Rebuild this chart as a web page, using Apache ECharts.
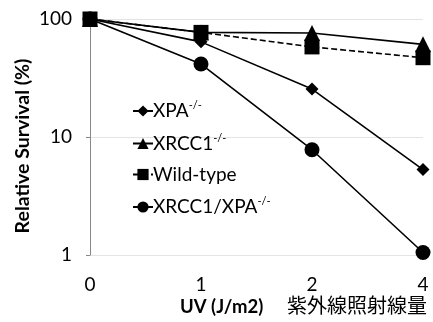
<!DOCTYPE html>
<html><head><meta charset="utf-8">
<script src="https://cdn.jsdelivr.net/npm/echarts@6/dist/echarts.min.js"></script>
<style>html,body{margin:0;padding:0;background:#fff}#c{width:433px;height:322px}</style>
</head><body><div id="c"></div>
<script>
const doses = ['0', '1', '2', '4'];
const xpa = [100, 64, 25.5, 5.3];
const xrcc1 = [100, 77, 76, 61];
const wildType = [100, 77, 58, 47];
const double = [100, 41.5, 7.8, 1.05];
const yTicks = [1, 10, 100];

const font = 'Lato, "Open Sans", sans-serif';
const chart = echarts.init(document.getElementById('c'), null, {renderer: 'canvas'});
function mk(name, data, symbol, size, dashed) {
  return {
    name, type: 'line', data, symbol, symbolSize: size,
    lineStyle: {color: '#000', width: 1.6, type: dashed ? [6, 3] : 'solid'},
    itemStyle: {color: '#000'}, animation: false
  };
}
chart.setOption({
  animation: false,
  grid: {left: 90, right: 10, top: 19, bottom: 67},
  xAxis: {
    type: 'category', data: doses, boundaryGap: false,
    axisLine: {show: false}, axisTick: {show: false},
    axisLabel: {fontSize: 19, color: '#000', fontFamily: font, margin: 20}
  },
  yAxis: {
    type: 'log', logBase: 10, min: 1, max: 100,
    axisLine: {show: true, lineStyle: {color: '#888'}},
    axisTick: {show: true, length: 4, lineStyle: {color: '#888'}},
    splitLine: {show: true, lineStyle: {color: '#e4e4e4'}},
    axisLabel: {fontSize: 19, color: '#000', fontFamily: font, margin: 18,
      formatter: v => yTicks.includes(Math.round(v)) ? String(Math.round(v)) : ''}
  },
  legend: {
    orient: 'vertical', left: 127, top: 95, itemGap: 12,
    itemWidth: 20, itemHeight: 14,
    data: ['XPA', 'XRCC1', 'Wild-type', 'XRCC1/XPA'],
    formatter: n => n === 'Wild-type' ? '{a|' + n + '}' : '{a|' + n + '}{s|-/-}',
    textStyle: {
      color: '#000', fontFamily: font, fontSize: 19, padding: [0, 0, 0, -5],
      rich: {
        a: {fontSize: 19, color: '#000', fontFamily: font},
        s: {fontSize: 11, color: '#000', fontFamily: font, padding: [0, 0, 11, 0]}
      }
    }
  },
  graphic: [
    {type: 'text', x: 23, y: 146, rotation: Math.PI / 2,
      style: {text: 'Relative Survival (%)', fontSize: 19.5, fontWeight: 'bold', fill: '#000', fontFamily: font, align: 'center', verticalAlign: 'middle'}},
    {type: 'text', left: 180, top: 298, style: {text: 'UV (J/m2)', fontSize: 18.5, fontWeight: 'bold', fill: '#000', fontFamily: font}},
    {type: 'text', left: 287, top: 295, style: {text: '紫外線照射線量', fontSize: 20, fill: '#000', fontFamily: '"Noto Sans CJK JP", sans-serif'}}
  ],
  series: [
    mk('XRCC1', xrcc1, 'triangle', 16, false),
    mk('Wild-type', wildType, 'rect', 15, true),
    mk('XPA', xpa, 'diamond', 13, false),
    mk('XRCC1/XPA', double, 'circle', 15, false)
  ]
});
</script></body></html>
